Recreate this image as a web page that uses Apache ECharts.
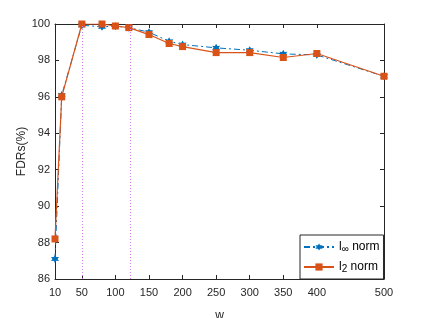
<!DOCTYPE html>
<html><head><meta charset="utf-8">
<script src="https://cdn.jsdelivr.net/npm/echarts@6/dist/echarts.min.js"></script>
<style>html,body{margin:0;padding:0;background:#fff}#c{width:424px;height:318px}</style>
</head><body><div id="c"></div>
<script>
const wValues = [10, 20, 50, 80, 100, 120, 150, 180, 200, 250, 300, 350, 400, 500];
const linfNorm = [87.1, 96.1, 99.93, 99.85, 99.88, 99.8, 99.55, 99.05, 98.87, 98.69, 98.56, 98.36, 98.3, 97.13];
const l2Norm = [88.2, 96.0, 100.0, 100.0, 99.89, 99.8, 99.42, 98.93, 98.76, 98.43, 98.43, 98.16, 98.38, 97.13];
const xTicks = [10, 50, 100, 150, 200, 250, 300, 350, 400, 500];
const yTicks = [86, 88, 90, 92, 94, 96, 98, 100];
const guideLines = [50, 122];
const seriesNames = ['linf', 'l2'];

const axisColor = '#262626';
const font = 'Liberation Sans, Arial, Helvetica, sans-serif';
const starPath = 'path://M10 0 L7.25 5.24 L1.34 5 L4.5 10 L1.34 15 L7.25 14.76 L10 20 L12.75 14.76 L18.66 15 L15.5 10 L18.66 5 L12.75 5.24 Z';

const chart = echarts.init(document.getElementById('c'), null, {renderer: 'canvas'});
const baseX = {
  type: 'value', min: 10, max: 500,
  axisLine: {show: true, onZero: false, lineStyle: {color: axisColor, width: 1}},
  axisTick: {show: true, inside: true, length: 4, customValues: xTicks, lineStyle: {color: axisColor}},
  splitLine: {show: false}
};
const baseY = {
  type: 'value', min: 86, max: 100, interval: 2,
  axisLine: {show: true, onZero: false, lineStyle: {color: axisColor, width: 1}},
  axisTick: {show: true, inside: true, length: 4, lineStyle: {color: axisColor}},
  splitLine: {show: false}
};
chart.setOption({
  animation: false,
  backgroundColor: '#fff',
  textStyle: {fontFamily: font},
  grid: {left: 55, right: 40, top: 24, bottom: 39, containLabel: false, outerBoundsMode: 'none'},
  xAxis: [
    Object.assign({}, baseX, {
      position: 'bottom',
      name: 'w', nameLocation: 'middle', nameGap: 31, nameMoveOverlap: false,
      nameTextStyle: {color: axisColor, fontSize: 12, fontFamily: font},
      axisLabel: {show: true, customValues: xTicks, color: axisColor, fontSize: 11, margin: 8, fontFamily: font}
    }),
    Object.assign({}, baseX, {position: 'top', axisLabel: {show: false}})
  ],
  yAxis: [
    Object.assign({}, baseY, {
      position: 'left',
      name: 'FDRs(%)', nameLocation: 'middle', nameGap: 27, nameRotate: 90, nameMoveOverlap: false,
      nameTextStyle: {color: axisColor, fontSize: 12, fontFamily: font},
      axisLabel: {show: true, color: axisColor, fontSize: 11, margin: 5, fontFamily: font}
    }),
    Object.assign({}, baseY, {position: 'right', axisLabel: {show: false}})
  ],
  legend: {
    left: 300, top: 235, orient: 'vertical',
    backgroundColor: '#fff', borderColor: axisColor, borderWidth: 1,
    padding: [5, 4, 5, 3], itemWidth: 30, itemHeight: 9, itemGap: 6,
    data: seriesNames,
    formatter: function (n) {
      return n === 'linf' ? '{a|l}{s|∞}{a| norm}' : '{a|l}{s|2}{a| norm}';
    },
    textStyle: {
      color: '#000', fontFamily: font, lineHeight: 14,
      rich: {
        a: {fontSize: 12, color: '#000', fontFamily: font, lineHeight: 14},
        s: {fontSize: 10, color: '#000', fontFamily: font, verticalAlign: 'bottom'}
      }
    }
  },
  series: [
    {
      name: 'linf', type: 'line', xAxisIndex: 0, yAxisIndex: 0,
      data: wValues.map((w, i) => [w, linfNorm[i]]),
      symbol: starPath, symbolSize: 8, showAllSymbol: true,
      itemStyle: {color: '#0072BD'},
      lineStyle: {color: '#0072BD', width: 1, type: [6, 3, 2, 3]},
      z: 3,
      markLine: {
        silent: true, symbol: 'none', label: {show: false},
        lineStyle: {color: '#d27ff5', type: [1, 2], width: 1},
        data: guideLines.map(v => ({xAxis: v}))
      }
    },
    {
      name: 'l2', type: 'line', xAxisIndex: 0, yAxisIndex: 0,
      data: wValues.map((w, i) => [w, l2Norm[i]]),
      symbol: 'rect', symbolSize: 7, showAllSymbol: true,
      itemStyle: {color: '#D95319'},
      lineStyle: {color: '#D95319', width: 1.2},
      z: 4
    }
  ]
});
</script></body></html>
